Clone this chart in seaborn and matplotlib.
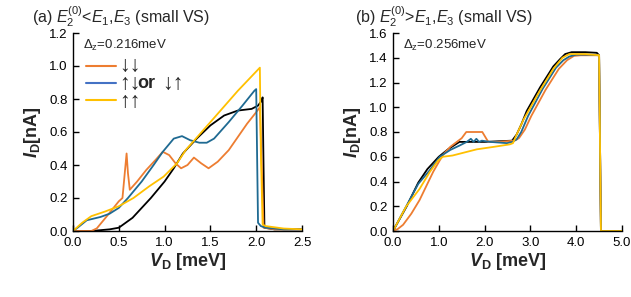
import numpy as np
import pandas as pd
import matplotlib
matplotlib.use("Agg")
import matplotlib.pyplot as plt
from matplotlib.lines import Line2D
import seaborn as sns

# ---------------- data: panel (a) ----------------
a_black_x = [0, 0.2, 0.4, 0.5, 0.55, 0.65, 0.75, 0.85, 1.0, 1.1, 1.2, 1.35, 1.5, 1.65, 1.8, 1.95, 2.02, 2.06, 2.07, 2.08, 2.09, 2.2, 2.5]
a_black_y = [0, 0.0, 0.01, 0.02, 0.04, 0.08, 0.14, 0.2, 0.3, 0.38, 0.47, 0.56, 0.64, 0.7, 0.73, 0.74, 0.76, 0.79, 0.81, 0.4, 0.02, 0.01, 0.01]

a_orange_x = [0, 0.2, 0.26, 0.37, 0.5, 0.54, 0.57, 0.585, 0.6, 0.62, 0.7, 0.8, 0.9, 0.98, 1.05, 1.12, 1.18, 1.25, 1.32, 1.4, 1.48, 1.58, 1.7, 1.8, 1.9, 2.0, 2.04, 2.06, 2.08, 2.2, 2.5]
a_orange_y = [0, 0.0, 0.016, 0.09, 0.18, 0.2, 0.38, 0.47, 0.35, 0.25, 0.3, 0.37, 0.43, 0.48, 0.46, 0.41, 0.38, 0.4, 0.445, 0.41, 0.38, 0.42, 0.49, 0.57, 0.65, 0.72, 0.75, 0.4, 0.02, 0.01, 0.01]

a_blue_x = [0, 0.05, 0.15, 0.3, 0.4, 0.5, 0.6, 0.75, 0.88, 0.98, 1.1, 1.19, 1.28, 1.38, 1.46, 1.54, 1.7, 1.85, 1.98, 2.0, 2.01, 2.02, 2.05, 2.1, 2.3, 2.5]
a_blue_y = [0, 0.02, 0.065, 0.085, 0.105, 0.14, 0.2, 0.3, 0.4, 0.48, 0.56, 0.575, 0.55, 0.535, 0.535, 0.56, 0.66, 0.76, 0.85, 0.86, 0.45, 0.05, 0.03, 0.02, 0.01, 0.01]

a_yellow_x = [0, 0.1, 0.2, 0.35, 0.5, 0.66, 0.83, 0.99, 1.135, 1.23, 1.5, 1.8, 2.04, 2.05, 2.07, 2.1, 2.3, 2.5]
a_yellow_y = [0, 0.05, 0.09, 0.118, 0.15, 0.2, 0.27, 0.33, 0.41, 0.49, 0.66, 0.85, 0.99, 0.5, 0.04, 0.03, 0.015, 0.01]

# ---------------- data: panel (b) ----------------
b_black_x = [0, 0.3, 0.55, 0.75, 1.0, 1.2, 1.45, 2.0, 2.6, 2.7, 2.8, 2.92, 3.21, 3.5, 3.65, 3.76, 3.9, 4.2, 4.45, 4.5, 4.52, 4.54, 4.6, 5.0]
b_black_y = [0, 0.2, 0.39, 0.5, 0.6, 0.66, 0.72, 0.72, 0.73, 0.78, 0.86, 0.97, 1.16, 1.33, 1.39, 1.43, 1.445, 1.445, 1.44, 1.42, 0.7, 0.0, 0.0, 0.0]

b_blue_x = [0, 0.1, 0.29, 0.55, 0.8, 1.02, 1.25, 1.45, 1.61, 1.7, 1.76, 1.82, 1.88, 1.94, 2.12, 2.49, 2.6, 2.7, 2.8, 2.95, 3.27, 3.56, 3.72, 3.85, 4.0, 4.3, 4.5, 4.52, 4.54, 5.0]
b_blue_y = [0, 0.07, 0.2, 0.38, 0.49, 0.6, 0.655, 0.69, 0.72, 0.745, 0.72, 0.745, 0.72, 0.73, 0.72, 0.71, 0.72, 0.74, 0.8, 0.93, 1.15, 1.32, 1.38, 1.41, 1.425, 1.425, 1.42, 0.7, 0.0, 0.0]

b_orange_x = [0, 0.1, 0.22, 0.4, 0.58, 0.88, 1.02, 1.1, 1.25, 1.5, 1.6, 1.95, 2.08, 2.3, 2.65, 2.75, 2.88, 3.02, 3.33, 3.62, 3.8, 3.95, 4.1, 4.5, 4.52, 4.54, 5.0]
b_orange_y = [0, 0.015, 0.05, 0.14, 0.25, 0.48, 0.57, 0.62, 0.68, 0.75, 0.8, 0.8, 0.72, 0.72, 0.73, 0.75, 0.82, 0.93, 1.14, 1.31, 1.38, 1.415, 1.42, 1.42, 0.7, 0.0, 0.0]

b_yellow_x = [0, 0.29, 0.58, 0.8, 0.985, 1.09, 1.3, 1.83, 2.2, 2.55, 2.62, 2.7, 2.85, 3.2, 3.5, 3.7, 3.85, 4.2, 4.5, 4.52, 4.54, 5.0]
b_yellow_y = [0, 0.2, 0.34, 0.475, 0.57, 0.6, 0.61, 0.66, 0.68, 0.70, 0.71, 0.78, 0.9, 1.13, 1.31, 1.4, 1.43, 1.43, 1.42, 0.7, 0.0, 0.0]

a_xticks = [0.0, 0.5, 1.0, 1.5, 2.0, 2.5]
a_yticks = [0.0, 0.2, 0.4, 0.6, 0.8, 1.0, 1.2]
b_xticks = [0.0, 1.0, 2.0, 3.0, 4.0, 5.0]
b_yticks = [0.0, 0.2, 0.4, 0.6, 0.8, 1.0, 1.2, 1.4, 1.6]
legend_arrows = ["↓↓", "↑↓", "↑↑"]
legend_or = "or"
legend_alt = "↓↑"

# ---------------- style ----------------
sns.set_style("ticks")
plt.rcParams['font.family'] = ['Liberation Sans', 'DejaVu Sans']
plt.rcParams['mathtext.fontset'] = 'custom'
plt.rcParams['mathtext.rm'] = 'Liberation Sans'
plt.rcParams['mathtext.it'] = 'Liberation Sans:italic'
plt.rcParams['mathtext.bf'] = 'Liberation Sans:bold'
plt.rcParams['mathtext.bfit'] = 'Liberation Sans:italic:bold'

C_BLACK = "#000000"
C_ORANGE = "#ED7D31"
C_BLUE = "#1F6A92"
C_BLUE_LEG = "#4472C4"
C_YELLOW = "#FFC000"
palette = {"black": C_BLACK, "orange": C_ORANGE, "blue": C_BLUE, "yellow": C_YELLOW}


def make_df(series):
    frames = []
    for name, xs, ys in series:
        frames.append(pd.DataFrame({"V": xs, "I": ys, "series": name}))
    return pd.concat(frames, ignore_index=True)


df_a = make_df([("black", a_black_x, a_black_y), ("orange", a_orange_x, a_orange_y),
                ("blue", a_blue_x, a_blue_y), ("yellow", a_yellow_x, a_yellow_y)])
df_b = make_df([("black", b_black_x, b_black_y), ("orange", b_orange_x, b_orange_y),
                ("blue", b_blue_x, b_blue_y), ("yellow", b_yellow_x, b_yellow_y)])

fig = plt.figure(figsize=(6.31, 2.97), dpi=100)
ax1 = fig.add_axes([73 / 631, 1 - 231 / 297, 229 / 631, 198 / 297])
ax2 = fig.add_axes([393 / 631, 1 - 231 / 297, 229 / 631, 198 / 297])

for ax, df in [(ax1, df_a), (ax2, df_b)]:
    sns.lineplot(data=df, x="V", y="I", hue="series", palette=palette, sort=False,
                 estimator=None, legend=False, ax=ax, linewidth=1.3)
    sns.despine(ax=ax)
    ax.tick_params(direction="in", length=4, width=1, labelsize=9.5, colors="black", pad=4)
    for s in ["left", "bottom"]:
        ax.spines[s].set_linewidth(1.0)
        ax.spines[s].set_color("black")
    ax.set_xlabel(r"$\mathbfit{V}_\mathbf{D}$ [meV]", fontsize=13, fontweight="bold", labelpad=2)
    ax.set_ylabel(r"$\mathbfit{I}_\mathbf{D}$[nA]", fontsize=13, fontweight="bold", labelpad=4)

ax1.set_xlim(0, 2.5)
ax1.set_ylim(0, 1.2)
ax1.set_xticks(a_xticks)
ax1.set_xticklabels([f"{v:.1f}" for v in a_xticks])
ax1.set_yticks(a_yticks)
ax1.set_yticklabels([f"{v:.1f}" for v in a_yticks])

ax2.set_xlim(0, 5.0)
ax2.set_ylim(0, 1.6)
ax2.set_xticks(b_xticks)
ax2.set_xticklabels([f"{v:.1f}" for v in b_xticks])
ax2.set_yticks(b_yticks)
ax2.set_yticklabels([f"{v:.1f}" for v in b_yticks])

ax1.text(0.045, 0.975, r"$\Delta_\mathrm{z}$=0.216meV", transform=ax1.transAxes, fontsize=9.5, va="top", ha="left")
ax2.text(0.045, 0.975, r"$\Delta_\mathrm{z}$=0.256meV", transform=ax2.transAxes, fontsize=9.5, va="top", ha="left")

# legend: line handles, with arrow symbols placed as text next to them
handles = [Line2D([], [], color=C_ORANGE, lw=1.5), Line2D([], [], color=C_BLUE_LEG, lw=1.5),
           Line2D([], [], color=C_YELLOW, lw=1.5)]
ax1.legend(handles, [" ", " ", " "], loc="upper left", bbox_to_anchor=(0.0, 0.935), frameon=False,
           fontsize=13.5, handlelength=1.6, handletextpad=0.35, labelspacing=0.0, borderaxespad=0.3)
row_y = [(231 - 66) / 198, (231 - 84) / 198, (231 - 102) / 198]
for lab, yy in zip(legend_arrows, row_y):
    ax1.text((119 - 73) / 229, yy, lab, transform=ax1.transAxes, fontsize=15.5, va="center", ha="left")
ax1.text((137 - 73) / 229, row_y[1], legend_or, transform=ax1.transAxes, fontsize=13,
         fontweight="bold", va="center", ha="left")
ax1.text((162 - 73) / 229, row_y[1], legend_alt, transform=ax1.transAxes, fontsize=15.5, va="center", ha="left")

fig.text(32 / 631, 1 - 4 / 297, r"(a) $E_2^{(0)}$<$E_1$,$E_3$ (small VS)", fontsize=11.5, va="top", ha="left")
fig.text(355 / 631, 1 - 4 / 297, r"(b) $E_2^{(0)}$>$E_1$,$E_3$ (small VS)", fontsize=11.5, va="top", ha="left")

fig.savefig("out.png", dpi=100)
